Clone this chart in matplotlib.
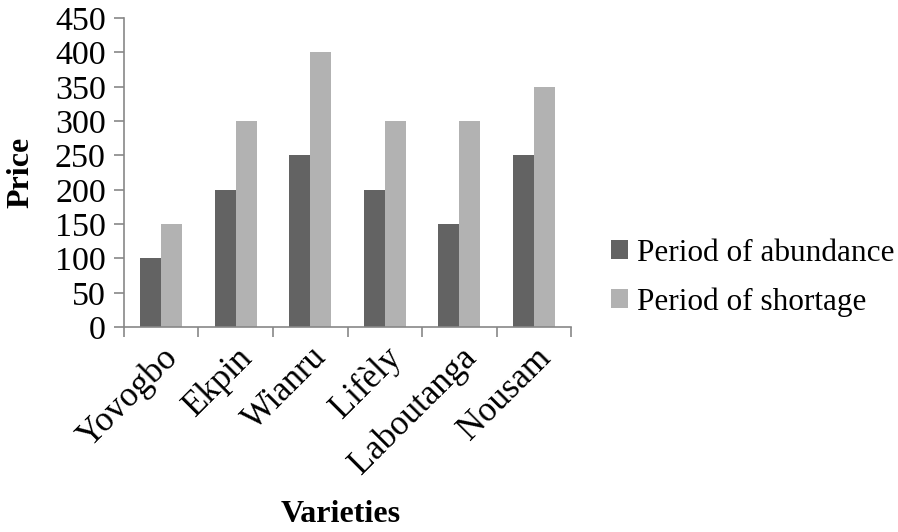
import numpy as np
import matplotlib.pyplot as plt

plt.rcParams["font.family"] = ["Liberation Serif", "DejaVu Serif"]

varieties = ["Yovogbo", "Ekpin", "Wianru", "Lifèly", "Laboutanga", "Nousam"]
abundance = [100, 200, 250, 200, 150, 250]
shortage = [150, 300, 400, 300, 300, 350]
y_ticks = [0, 50, 100, 150, 200, 250, 300, 350, 400, 450]

DARK = "#636363"
LIGHT = "#b2b2b2"
AXIS = "#878787"

fig = plt.figure(figsize=(8.98, 5.32), dpi=100)
ax = fig.add_axes([0.138, 0.385, 0.498, 0.581])

x = np.arange(len(varieties))
width = 0.28
ax.bar(x - width / 2, abundance, width, color=DARK, label="Period of abundance")
ax.bar(x + width / 2, shortage, width, color=LIGHT, label="Period of shortage")

ax.set_xlim(-0.5, len(varieties) - 0.5)
ax.set_ylim(0, 450)
ax.set_yticks(y_ticks)
ax.set_yticklabels([str(v) for v in y_ticks], fontsize=24.5)
ax.tick_params(axis="y", length=7, color=AXIS, width=1.2, pad=6)

ax.set_xticks(x)
ax.set_xticklabels(varieties, rotation=45, ha="right", rotation_mode="anchor", fontsize=25)
ax.tick_params(axis="x", length=0, pad=10)
ax.set_xticks(np.arange(len(varieties) + 1) - 0.5, minor=True)
ax.tick_params(axis="x", which="minor", length=7, color=AXIS, width=1.2)

for side in ["top", "right"]:
    ax.spines[side].set_visible(False)
for side in ["left", "bottom"]:
    ax.spines[side].set_color(AXIS)
    ax.spines[side].set_linewidth(1.2)

ax.set_ylabel("Price", fontsize=23, fontweight="bold")
ax.yaxis.set_label_coords(-0.197, 0.5)
ax.set_xlabel("Varieties", fontsize=23, fontweight="bold")
ax.xaxis.set_label_coords(0.485, -0.56)

ax.legend(loc="center left", bbox_to_anchor=(1.04, 0.16), frameon=False,
          fontsize=22.5, handlelength=0.55, handleheight=0.55, handletextpad=0.3,
          labelspacing=0.62, borderaxespad=0.3)

fig.savefig("out.png", dpi=100)
